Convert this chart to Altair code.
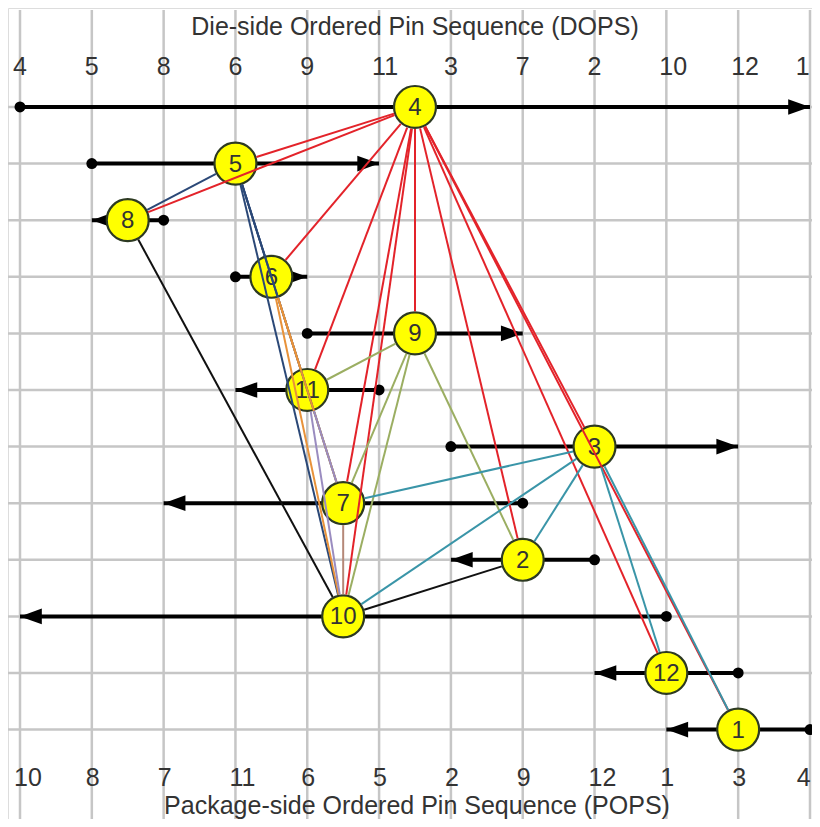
import altair as alt
import pandas as pd
import math

# ---- data ----
dops = [4, 5, 8, 6, 9, 11, 3, 7, 2, 10, 12, 1]   # die-side order (top axis, rows)
pops = [10, 8, 7, 11, 6, 5, 2, 9, 12, 1, 3, 4]   # package-side order (bottom axis)

# edge colour per source pin (style)
edge_color = {
    4: "#e3232a", 5: "#2b4877", 8: "#111111", 6: "#e8923a", 9: "#9bae62",
    11: "#9a8cc0", 3: "#3a95a8", 7: "#b58878", 2: "#111111",
    10: "#111111", 12: "#111111", 1: "#111111",
}

# ---- layout ----
W, H = 804, 811
XMIN, XMAX = -0.1671, 11.028
YMIN, YMAX = -1.749, 12.58
PX = W / (XMAX - XMIN)
PY = H / (YMAX - YMIN)
R = 22  # node radius in px

die = {p: i for i, p in enumerate(dops)}
pkg = {p: i for i, p in enumerate(pops)}

nodes = pd.DataFrame({
    "pin": dops,
    "row": [die[p] for p in dops],
    "mid": [(die[p] + pkg[p]) / 2 for p in dops],
    "start": [die[p] for p in dops],
    "end": [pkg[p] for p in dops],
})
nodes["label"] = nodes["pin"].astype(str)
nodes["dir"] = ["R" if pkg[p] > die[p] else "L" for p in dops]

# crossing pairs -> edges
rows = []
for a in dops:
    for b in dops:
        if die[a] < die[b] and pkg[a] > pkg[b]:
            x1, y1 = (die[a] + pkg[a]) / 2, die[a]
            x2, y2 = (die[b] + pkg[b]) / 2, die[b]
            dx, dy = (x2 - x1) * PX, (y2 - y1) * PY
            L = math.hypot(dx, dy)
            t = R / L
            rows.append({
                "x1": x1 + (x2 - x1) * t, "y1": y1 + (y2 - y1) * t,
                "x2": x2 - (x2 - x1) * t, "y2": y2 - (y2 - y1) * t,
                "color": edge_color[a], "order": die[a],
            })
edges = pd.DataFrame(rows)

grid = pd.DataFrame({"i": list(range(12))})
top_lab = pd.DataFrame({"i": list(range(12)), "t": [str(p) for p in dops]})
bot_lab = pd.DataFrame({"i": list(range(12)), "t": [str(p) for p in pops]})

xs = alt.Scale(domain=[XMIN, XMAX], nice=False, zero=False)
ys = alt.Scale(domain=[YMIN, YMAX], nice=False, zero=False, reverse=True)
FONT = "Liberation Sans"
GRID = "#c6c6c6"
TXT = "#333333"

vgrid = alt.Chart(grid).mark_rule(color=GRID, strokeWidth=2.5).encode(
    x=alt.X("i:Q", scale=xs, axis=None), y=alt.value(2), y2=alt.value(H))
hgrid = alt.Chart(grid).mark_rule(color=GRID, strokeWidth=2.5).encode(
    y=alt.Y("i:Q", scale=ys, axis=None), x=alt.value(0), x2=alt.value(W))

arrow_line = alt.Chart(nodes).mark_rule(color="black", strokeWidth=4).encode(
    x=alt.X("start:Q", scale=xs), x2="end:Q", y=alt.Y("row:Q", scale=ys))
arrow_dot = alt.Chart(nodes).mark_point(shape="circle", filled=True, color="black",
                                         size=120, opacity=1).encode(
    x=alt.X("start:Q", scale=xs), y=alt.Y("row:Q", scale=ys))
head_r = alt.Chart(nodes).transform_filter("datum.dir == 'R'").mark_point(
    shape="M0,0L-1,-0.36L-1,0.36Z", filled=True, color="black", size=1900, opacity=1).encode(
    x=alt.X("end:Q", scale=xs), y=alt.Y("row:Q", scale=ys))
head_l = alt.Chart(nodes).transform_filter("datum.dir == 'L'").mark_point(
    shape="M0,0L1,-0.36L1,0.36Z", filled=True, color="black", size=1900, opacity=1).encode(
    x=alt.X("end:Q", scale=xs), y=alt.Y("row:Q", scale=ys))

circles = alt.Chart(nodes).mark_point(shape="circle", filled=True, fill="#ffff00",
                                       stroke="#2d3a22", strokeWidth=2.2, size=1760,
                                       opacity=1).encode(
    x=alt.X("mid:Q", scale=xs), y=alt.Y("row:Q", scale=ys))
circ_text = alt.Chart(nodes).mark_text(font=FONT, fontSize=24, color=TXT,
                                        baseline="middle", dy=1).encode(
    x=alt.X("mid:Q", scale=xs), y=alt.Y("row:Q", scale=ys), text="label:N")

edge_lines = alt.Chart(edges).mark_rule(strokeWidth=2).encode(
    x=alt.X("x1:Q", scale=xs), y=alt.Y("y1:Q", scale=ys), x2="x2:Q", y2="y2:Q",
    color=alt.Color("color:N", scale=None), order="order:Q")

# keep the last label inside the edge
LAST_SHIFT = "datum.i == 11 ? datum.i - 0.1 : datum.i"
top_text = alt.Chart(top_lab).transform_calculate(lx=LAST_SHIFT).mark_text(
    font=FONT, fontSize=25, color=TXT, align="left", dx=-7,
    baseline="alphabetic").encode(
    x=alt.X("lx:Q", scale=xs), y=alt.value(67), text="t:N")
bot_text = alt.Chart(bot_lab).transform_calculate(lx=LAST_SHIFT).mark_text(
    font=FONT, fontSize=25, color=TXT, align="left", dx=-6,
    baseline="alphabetic").encode(
    x=alt.X("lx:Q", scale=xs), y=alt.value(778), text="t:N")
top_title = alt.Chart(pd.DataFrame({"t": ["Die-side Ordered Pin Sequence (DOPS)"]})).mark_text(
    font=FONT, fontSize=25, color=TXT, baseline="alphabetic").encode(
    x=alt.value(407), y=alt.value(27), text="t:N")
bot_title = alt.Chart(pd.DataFrame({"t": ["Package-side Ordered Pin Sequence (POPS)"]})).mark_text(
    font=FONT, fontSize=25, color=TXT, baseline="alphabetic").encode(
    x=alt.value(409), y=alt.value(806), text="t:N")

chart = alt.layer(
    vgrid, hgrid, top_title, bot_title, top_text, bot_text,
    arrow_line, arrow_dot, head_r, head_l,
    circles, circ_text, edge_lines,
).properties(width=W, height=H, padding=0, autosize=alt.AutoSizeParams(type="none")
).configure_view(stroke=None).configure(background="white")

chart.save("out.html", embed_options={"renderer": "svg", "actions": False})
